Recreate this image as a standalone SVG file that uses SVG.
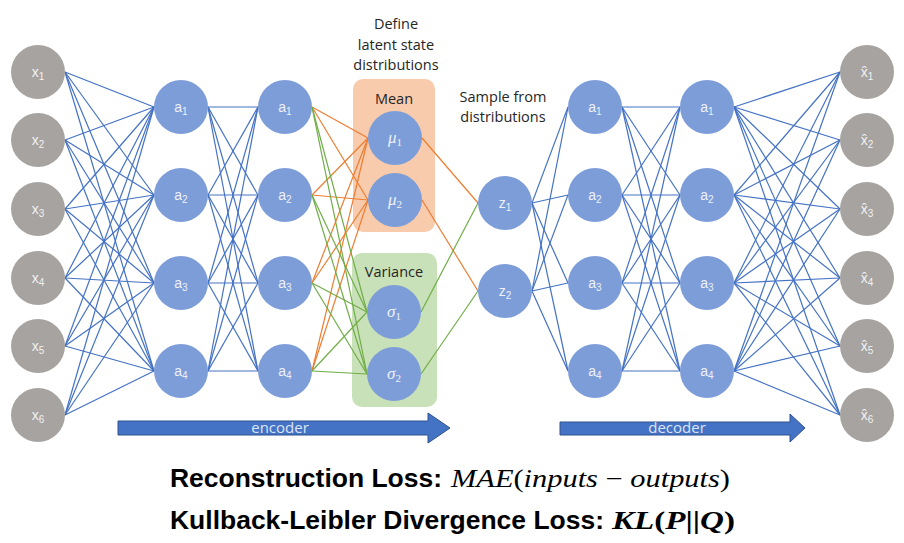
<svg xmlns="http://www.w3.org/2000/svg" width="904" height="543" viewBox="0 0 904 543">
<style>
.gn{fill:#a6a3a0}
.bn{fill:#7d9dd9}
.nl{font-family:"Liberation Sans",Arial,sans-serif;font-size:14px;fill:#eef1f7;text-anchor:middle}
.gl{font-family:"Liberation Sans",Arial,sans-serif;font-size:14px;fill:#f2f2f2;text-anchor:middle}
.ml{font-family:"Liberation Serif","Times New Roman",serif;font-style:italic;font-size:17px;fill:#eef1f7;text-anchor:middle}
.sb{font-size:10px}
.ms{font-size:11px;font-style:normal}
.hd{font-family:"Open Sans","Liberation Sans",sans-serif;font-size:14.5px;fill:#262626;text-anchor:middle}
.b{stroke:#4472c4;stroke-width:1.2}
.o{stroke:#ed7d31;stroke-width:1.2}
.g{stroke:#70ad47;stroke-width:1.2}
.arr{fill:#4472c4;stroke:#2f528f;stroke-width:1}
.at{font-family:"Open Sans","Liberation Sans",sans-serif;font-size:15px;fill:#dce5f5;text-anchor:middle}
.bt{font-family:"Liberation Sans",Arial,sans-serif;font-weight:bold;font-size:25px;fill:#000}
.mt{font-family:"Liberation Serif","Times New Roman",serif;font-size:25px;fill:#000}
</style>
<rect width="904" height="543" fill="#fff"/>
<g id="mean-box"><rect x="353" y="79" width="82" height="153" rx="10" fill="#f8cbad"/><text class="hd" x="394" y="104">Mean</text></g>
<g id="variance-box"><rect x="352" y="253" width="85" height="154" rx="10" fill="#c9e1b8"/><text class="hd" x="394" y="277">Variance</text></g>
<g id="connectors">
<line class="b" x1="65" y1="72" x2="154" y2="107"/><line class="b" x1="65" y1="72" x2="154" y2="195"/><line class="b" x1="65" y1="72" x2="154" y2="283"/><line class="b" x1="65" y1="72" x2="154" y2="371"/>
<line class="b" x1="65" y1="140" x2="154" y2="107"/><line class="b" x1="65" y1="140" x2="154" y2="195"/><line class="b" x1="65" y1="140" x2="154" y2="283"/><line class="b" x1="65" y1="140" x2="154" y2="371"/>
<line class="b" x1="65" y1="209" x2="154" y2="107"/><line class="b" x1="65" y1="209" x2="154" y2="195"/><line class="b" x1="65" y1="209" x2="154" y2="283"/><line class="b" x1="65" y1="209" x2="154" y2="371"/>
<line class="b" x1="65" y1="278" x2="154" y2="107"/><line class="b" x1="65" y1="278" x2="154" y2="195"/><line class="b" x1="65" y1="278" x2="154" y2="283"/><line class="b" x1="65" y1="278" x2="154" y2="371"/>
<line class="b" x1="65" y1="346" x2="154" y2="107"/><line class="b" x1="65" y1="346" x2="154" y2="195"/><line class="b" x1="65" y1="346" x2="154" y2="283"/><line class="b" x1="65" y1="346" x2="154" y2="371"/>
<line class="b" x1="65" y1="415" x2="154" y2="107"/><line class="b" x1="65" y1="415" x2="154" y2="195"/><line class="b" x1="65" y1="415" x2="154" y2="283"/><line class="b" x1="65" y1="415" x2="154" y2="371"/>
<line class="b" x1="208" y1="107" x2="258" y2="107"/><line class="b" x1="208" y1="107" x2="258" y2="195"/><line class="b" x1="208" y1="107" x2="258" y2="283"/><line class="b" x1="208" y1="107" x2="258" y2="371"/>
<line class="b" x1="208" y1="195" x2="258" y2="107"/><line class="b" x1="208" y1="195" x2="258" y2="195"/><line class="b" x1="208" y1="195" x2="258" y2="283"/><line class="b" x1="208" y1="195" x2="258" y2="371"/>
<line class="b" x1="208" y1="283" x2="258" y2="107"/><line class="b" x1="208" y1="283" x2="258" y2="195"/><line class="b" x1="208" y1="283" x2="258" y2="283"/><line class="b" x1="208" y1="283" x2="258" y2="371"/>
<line class="b" x1="208" y1="371" x2="258" y2="107"/><line class="b" x1="208" y1="371" x2="258" y2="195"/><line class="b" x1="208" y1="371" x2="258" y2="283"/><line class="b" x1="208" y1="371" x2="258" y2="371"/>
<line class="o" x1="312" y1="107" x2="368" y2="138"/><line class="o" x1="312" y1="107" x2="368" y2="200"/>
<line class="o" x1="312" y1="195" x2="368" y2="138"/><line class="o" x1="312" y1="195" x2="368" y2="200"/>
<line class="o" x1="312" y1="283" x2="368" y2="138"/><line class="o" x1="312" y1="283" x2="368" y2="200"/>
<line class="o" x1="312" y1="371" x2="368" y2="138"/><line class="o" x1="312" y1="371" x2="368" y2="200"/>
<line class="g" x1="312" y1="107" x2="367" y2="312"/><line class="g" x1="312" y1="107" x2="367" y2="374"/>
<line class="g" x1="312" y1="195" x2="367" y2="312"/><line class="g" x1="312" y1="195" x2="367" y2="374"/>
<line class="g" x1="312" y1="283" x2="367" y2="312"/><line class="g" x1="312" y1="283" x2="367" y2="374"/>
<line class="g" x1="312" y1="371" x2="367" y2="312"/><line class="g" x1="312" y1="371" x2="367" y2="374"/>
<line class="o" x1="422" y1="138" x2="478" y2="203"/><line class="o" x1="422" y1="200" x2="478" y2="291"/>
<line class="g" x1="421" y1="312" x2="478" y2="203"/><line class="g" x1="421" y1="374" x2="478" y2="291"/>
<line class="b" x1="532" y1="203" x2="568" y2="107"/><line class="b" x1="532" y1="203" x2="568" y2="195"/><line class="b" x1="532" y1="203" x2="568" y2="283"/><line class="b" x1="532" y1="203" x2="568" y2="371"/>
<line class="b" x1="532" y1="291" x2="568" y2="107"/><line class="b" x1="532" y1="291" x2="568" y2="195"/><line class="b" x1="532" y1="291" x2="568" y2="283"/><line class="b" x1="532" y1="291" x2="568" y2="371"/>
<line class="b" x1="622" y1="107" x2="680" y2="107"/><line class="b" x1="622" y1="107" x2="680" y2="195"/><line class="b" x1="622" y1="107" x2="680" y2="283"/><line class="b" x1="622" y1="107" x2="680" y2="371"/>
<line class="b" x1="622" y1="195" x2="680" y2="107"/><line class="b" x1="622" y1="195" x2="680" y2="195"/><line class="b" x1="622" y1="195" x2="680" y2="283"/><line class="b" x1="622" y1="195" x2="680" y2="371"/>
<line class="b" x1="622" y1="283" x2="680" y2="107"/><line class="b" x1="622" y1="283" x2="680" y2="195"/><line class="b" x1="622" y1="283" x2="680" y2="283"/><line class="b" x1="622" y1="283" x2="680" y2="371"/>
<line class="b" x1="622" y1="371" x2="680" y2="107"/><line class="b" x1="622" y1="371" x2="680" y2="195"/><line class="b" x1="622" y1="371" x2="680" y2="283"/><line class="b" x1="622" y1="371" x2="680" y2="371"/>
<line class="b" x1="734" y1="107" x2="840" y2="72"/><line class="b" x1="734" y1="107" x2="840" y2="140"/><line class="b" x1="734" y1="107" x2="840" y2="209"/><line class="b" x1="734" y1="107" x2="840" y2="278"/><line class="b" x1="734" y1="107" x2="840" y2="346"/><line class="b" x1="734" y1="107" x2="840" y2="415"/>
<line class="b" x1="734" y1="195" x2="840" y2="72"/><line class="b" x1="734" y1="195" x2="840" y2="140"/><line class="b" x1="734" y1="195" x2="840" y2="209"/><line class="b" x1="734" y1="195" x2="840" y2="278"/><line class="b" x1="734" y1="195" x2="840" y2="346"/><line class="b" x1="734" y1="195" x2="840" y2="415"/>
<line class="b" x1="734" y1="283" x2="840" y2="72"/><line class="b" x1="734" y1="283" x2="840" y2="140"/><line class="b" x1="734" y1="283" x2="840" y2="209"/><line class="b" x1="734" y1="283" x2="840" y2="278"/><line class="b" x1="734" y1="283" x2="840" y2="346"/><line class="b" x1="734" y1="283" x2="840" y2="415"/>
<line class="b" x1="734" y1="371" x2="840" y2="72"/><line class="b" x1="734" y1="371" x2="840" y2="140"/><line class="b" x1="734" y1="371" x2="840" y2="209"/><line class="b" x1="734" y1="371" x2="840" y2="278"/><line class="b" x1="734" y1="371" x2="840" y2="346"/><line class="b" x1="734" y1="371" x2="840" y2="415"/>
</g>
<g id="x1"><circle class="gn" cx="38" cy="72" r="27"/><text class="gl" x="38" y="77">x<tspan class="sb" dy="3">1</tspan></text></g>
<g id="x2"><circle class="gn" cx="38" cy="140" r="27"/><text class="gl" x="38" y="145">x<tspan class="sb" dy="3">2</tspan></text></g>
<g id="x3"><circle class="gn" cx="38" cy="209" r="27"/><text class="gl" x="38" y="214">x<tspan class="sb" dy="3">3</tspan></text></g>
<g id="x4"><circle class="gn" cx="38" cy="278" r="27"/><text class="gl" x="38" y="283">x<tspan class="sb" dy="3">4</tspan></text></g>
<g id="x5"><circle class="gn" cx="38" cy="346" r="27"/><text class="gl" x="38" y="351">x<tspan class="sb" dy="3">5</tspan></text></g>
<g id="x6"><circle class="gn" cx="38" cy="415" r="27"/><text class="gl" x="38" y="420">x<tspan class="sb" dy="3">6</tspan></text></g>
<g id="enc1-a1"><circle class="bn" cx="181" cy="107" r="27"/><text class="nl" x="181" y="112">a<tspan class="sb" dy="3">1</tspan></text></g>
<g id="enc1-a2"><circle class="bn" cx="181" cy="195" r="27"/><text class="nl" x="181" y="200">a<tspan class="sb" dy="3">2</tspan></text></g>
<g id="enc1-a3"><circle class="bn" cx="181" cy="283" r="27"/><text class="nl" x="181" y="288">a<tspan class="sb" dy="3">3</tspan></text></g>
<g id="enc1-a4"><circle class="bn" cx="181" cy="371" r="27"/><text class="nl" x="181" y="376">a<tspan class="sb" dy="3">4</tspan></text></g>
<g id="enc2-a1"><circle class="bn" cx="285" cy="107" r="27"/><text class="nl" x="285" y="112">a<tspan class="sb" dy="3">1</tspan></text></g>
<g id="enc2-a2"><circle class="bn" cx="285" cy="195" r="27"/><text class="nl" x="285" y="200">a<tspan class="sb" dy="3">2</tspan></text></g>
<g id="enc2-a3"><circle class="bn" cx="285" cy="283" r="27"/><text class="nl" x="285" y="288">a<tspan class="sb" dy="3">3</tspan></text></g>
<g id="enc2-a4"><circle class="bn" cx="285" cy="371" r="27"/><text class="nl" x="285" y="376">a<tspan class="sb" dy="3">4</tspan></text></g>
<g id="mu1"><circle class="bn" cx="395" cy="138" r="27"/><text class="ml" x="395" y="143">μ<tspan class="ms" dy="3">1</tspan></text></g>
<g id="mu2"><circle class="bn" cx="395" cy="200" r="27"/><text class="ml" x="395" y="205">μ<tspan class="ms" dy="3">2</tspan></text></g>
<g id="sigma1"><circle class="bn" cx="394" cy="312" r="27"/><text class="ml" x="394" y="317">σ<tspan class="ms" dy="3">1</tspan></text></g>
<g id="sigma2"><circle class="bn" cx="394" cy="374" r="27"/><text class="ml" x="394" y="379">σ<tspan class="ms" dy="3">2</tspan></text></g>
<g id="z1"><circle class="bn" cx="505" cy="203" r="27"/><text class="nl" x="505" y="208">z<tspan class="sb" dy="3">1</tspan></text></g>
<g id="z2"><circle class="bn" cx="505" cy="291" r="27"/><text class="nl" x="505" y="296">z<tspan class="sb" dy="3">2</tspan></text></g>
<g id="dec1-a1"><circle class="bn" cx="595" cy="107" r="27"/><text class="nl" x="595" y="112">a<tspan class="sb" dy="3">1</tspan></text></g>
<g id="dec1-a2"><circle class="bn" cx="595" cy="195" r="27"/><text class="nl" x="595" y="200">a<tspan class="sb" dy="3">2</tspan></text></g>
<g id="dec1-a3"><circle class="bn" cx="595" cy="283" r="27"/><text class="nl" x="595" y="288">a<tspan class="sb" dy="3">3</tspan></text></g>
<g id="dec1-a4"><circle class="bn" cx="595" cy="371" r="27"/><text class="nl" x="595" y="376">a<tspan class="sb" dy="3">4</tspan></text></g>
<g id="dec2-a1"><circle class="bn" cx="707" cy="107" r="27"/><text class="nl" x="707" y="112">a<tspan class="sb" dy="3">1</tspan></text></g>
<g id="dec2-a2"><circle class="bn" cx="707" cy="195" r="27"/><text class="nl" x="707" y="200">a<tspan class="sb" dy="3">2</tspan></text></g>
<g id="dec2-a3"><circle class="bn" cx="707" cy="283" r="27"/><text class="nl" x="707" y="288">a<tspan class="sb" dy="3">3</tspan></text></g>
<g id="dec2-a4"><circle class="bn" cx="707" cy="371" r="27"/><text class="nl" x="707" y="376">a<tspan class="sb" dy="3">4</tspan></text></g>
<g id="xhat1"><circle class="gn" cx="867" cy="72" r="27"/><text class="gl" x="867" y="77">x̂<tspan class="sb" dy="3">1</tspan></text></g>
<g id="xhat2"><circle class="gn" cx="867" cy="140" r="27"/><text class="gl" x="867" y="145">x̂<tspan class="sb" dy="3">2</tspan></text></g>
<g id="xhat3"><circle class="gn" cx="867" cy="209" r="27"/><text class="gl" x="867" y="214">x̂<tspan class="sb" dy="3">3</tspan></text></g>
<g id="xhat4"><circle class="gn" cx="867" cy="278" r="27"/><text class="gl" x="867" y="283">x̂<tspan class="sb" dy="3">4</tspan></text></g>
<g id="xhat5"><circle class="gn" cx="867" cy="346" r="27"/><text class="gl" x="867" y="351">x̂<tspan class="sb" dy="3">5</tspan></text></g>
<g id="xhat6"><circle class="gn" cx="867" cy="415" r="27"/><text class="gl" x="867" y="420">x̂<tspan class="sb" dy="3">6</tspan></text></g>
<g id="define-label"><text class="hd" x="396" y="29">Define</text><text class="hd" x="396" y="50">latent state</text><text class="hd" x="396" y="70">distributions</text></g>
<g id="sample-label"><text class="hd" x="503" y="102">Sample from</text><text class="hd" x="503" y="122">distributions</text></g>
<g id="encoder-arrow"><polygon class="arr" points="118,421 428,421 428,413 450,428 428,443 428,435 118,435"/><text class="at" x="280" y="433">encoder</text></g>
<g id="decoder-arrow"><polygon class="arr" points="560,422 790,422 790,414 805,428 790,442 790,435 560,435"/><text class="at" x="677" y="433">decoder</text></g>
<g id="losses">
<text class="bt" x="170" y="487" textLength="272" lengthAdjust="spacingAndGlyphs">Reconstruction Loss:</text>
<text class="mt" x="451" y="487" textLength="279" lengthAdjust="spacingAndGlyphs"><tspan font-style="italic">MAE</tspan>(<tspan font-style="italic">inputs</tspan> − <tspan font-style="italic">outputs</tspan>)</text>
<text class="bt" x="170" y="529" textLength="434" lengthAdjust="spacingAndGlyphs">Kullback-Leibler Divergence Loss:</text>
<text class="mt" x="612" y="529" font-weight="bold" textLength="123" lengthAdjust="spacingAndGlyphs"><tspan font-style="italic">KL</tspan>(<tspan font-style="italic">P</tspan>||<tspan font-style="italic">Q</tspan>)</text>
</g>
</svg>
